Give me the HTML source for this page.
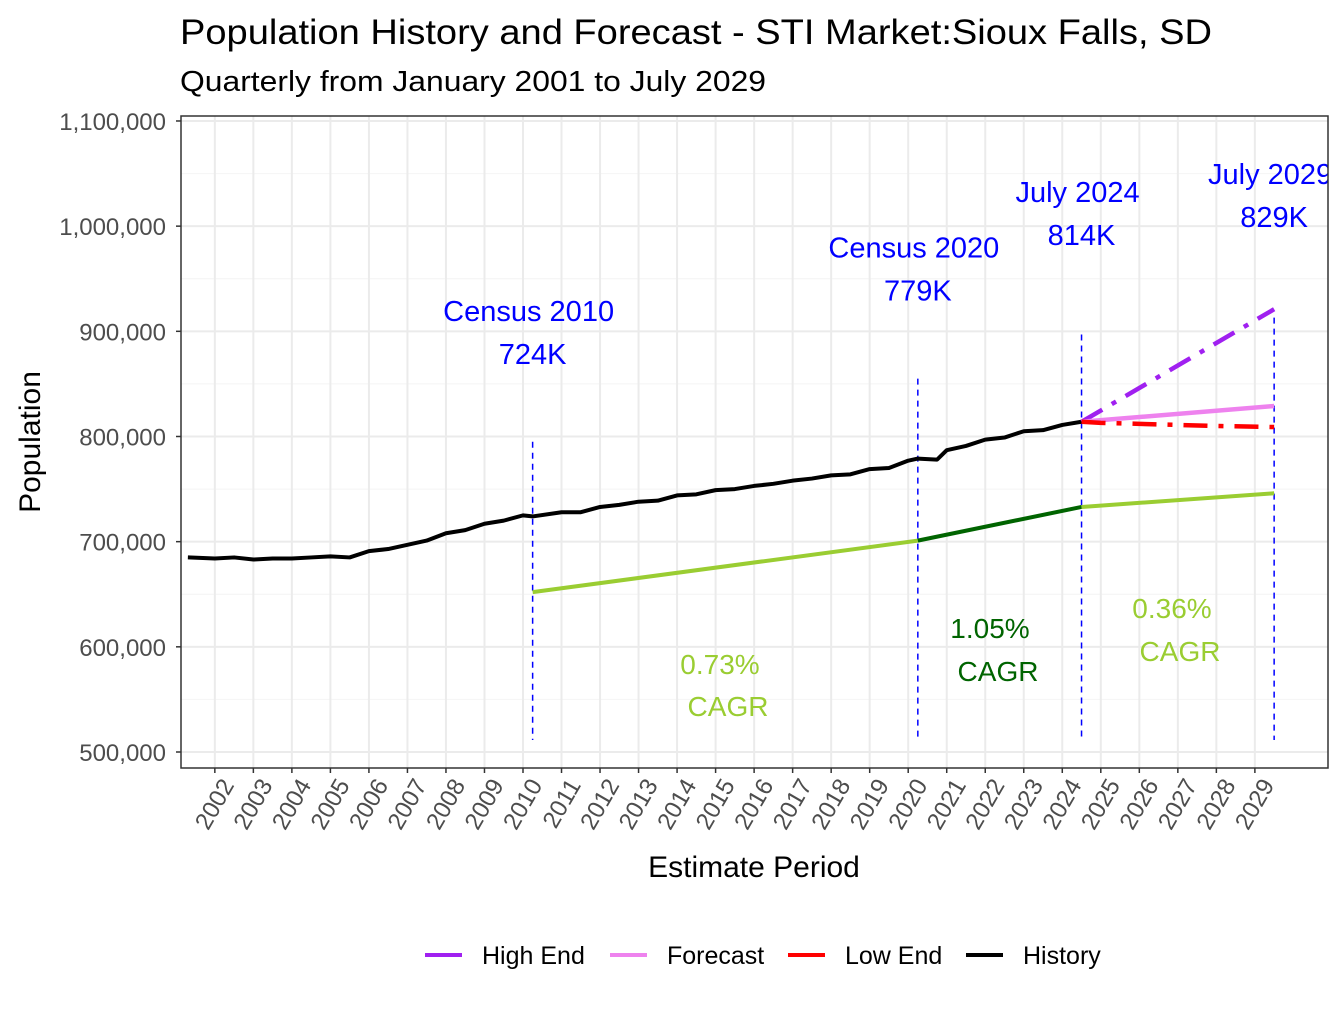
<!DOCTYPE html>
<html><head><meta charset="utf-8"><style>
body{margin:0;background:#fff}
svg text{font-family:"Liberation Sans",Arial,sans-serif}
</style></head><body>
<svg id="chart" width="1344" height="1008" xmlns="http://www.w3.org/2000/svg">
<text x="180" y="44" font-size="35" textLength="1032" lengthAdjust="spacingAndGlyphs">Population History and Forecast - STI Market:Sioux Falls, SD</text>
<text x="180" y="91" font-size="29" textLength="586" lengthAdjust="spacingAndGlyphs">Quarterly from January 2001 to July 2029</text>
<defs><clipPath id="clip"><rect x="181" y="116" width="1147" height="652"/></clipPath></defs>
<g id="grid"></g>
<g id="marks" clip-path="url(#clip)"></g>
<rect x="181" y="116" width="1147" height="652" fill="none" stroke="#333" stroke-width="1.5"/>
<g id="axes"></g>
<text transform="translate(40,442) rotate(-90)" text-anchor="middle" font-size="30">Population</text>
<text x="754" y="877" text-anchor="middle" font-size="30">Estimate Period</text>
<g id="legend"></g>
</svg>
<script>
const years=[2002,2003,2004,2005,2006,2007,2008,2009,2010,2011,2012,2013,2014,2015,2016,2017,2018,2019,2020,2021,2022,2023,2024,2025,2026,2027,2028,2029];
const yTicks=[500000,600000,700000,800000,900000,1000000,1100000];
const histT=[2001.3,2002,2002.5,2003,2003.5,2004,2004.5,2005,2005.5,2006,2006.5,2007,2007.5,2008,2008.5,2009,2009.5,2010,2010.25,2011,2011.5,2012,2012.5,2013,2013.5,2014,2014.5,2015,2015.5,2016,2016.5,2017,2017.5,2018,2018.5,2019,2019.5,2020,2020.25,2020.75,2021,2021.5,2022,2022.5,2023,2023.5,2024,2024.5];
const histV=[685000,684000,685000,683000,684000,684000,685000,686000,685000,691000,693000,697000,701000,708000,711000,717000,720000,725000,724000,728000,728000,733000,735000,738000,739000,744000,745000,749000,750000,753000,755000,758000,760000,763000,764000,769000,770000,777000,779000,778000,787000,791000,797000,799000,805000,806000,811000,814000];
const cagr1T=[2010.25,2020.25], cagr1V=[652000,701000];
const cagr2T=[2020.25,2024.5], cagr2V=[701000,733000];
const cagr3T=[2024.5,2029.5], cagr3V=[733000,746000];
const fcT=[2024.5,2029.5], fcV=[814000,829000];
const hiT=[2024.5,2029.5], hiV=[814000,921000];
const loT=[2024.5,2025,2026,2027,2028,2029.5], loV=[814000,813000,812000,811000,810000,809000];
const vlineT=[2010.25,2020.25,2024.5,2029.5], vlineTop=[795000,855000,897000,913000];
const notes=[["Census 2010",2010.25,"724K",910000],["Census 2020",2020.25,"779K",970000],["July 2024",2024.5,"814K",1023000],["July 2029",2029.5,"829K",1040000]];
const X=t=>523+(t-2010)*38.52, Y=v=>752-(v-500000)*0.0010517;
const NS="http://www.w3.org/2000/svg";
function mk(p,tag,a){const e=document.createElementNS(NS,tag);for(const k in a)e.setAttribute(k,a[k]);document.getElementById(p).appendChild(e);return e;}
for(let i=0;i<yTicks.length;i++){const y=Y(yTicks[i]);const g=mk('grid','line',{x1:181,x2:1328,y1:y,y2:y,stroke:'#ebebeb','stroke-width':2});

if(i<yTicks.length-1){const m=mk('grid','line',{x1:181,x2:1328,y1:Y(yTicks[i]+50000),y2:Y(yTicks[i]+50000),stroke:'#f4f4f4','stroke-width':1});}
const tl=mk('axes','text',{x:166,y:y+9,'text-anchor':'end','font-size':24,fill:'#4d4d4d'});tl.textContent=yTicks[i].toLocaleString('en-US');

const tk=mk('axes','line',{x1:176,x2:181,y1:y,y2:y,stroke:'#333','stroke-width':1.5});}
for(const yr of years){const x=X(yr);const g=mk('grid','line',{x1:x,x2:x,y1:116,y2:768,stroke:'#ebebeb','stroke-width':2});

const tk=mk('axes','line',{x1:x,x2:x,y1:768,y2:773,stroke:'#333','stroke-width':1.5});
const tl=mk('axes','text',{transform:`translate(${x+20},${785}) rotate(-60)`,'text-anchor':'end','font-size':24,fill:'#4d4d4d'});tl.textContent=yr;
}
function line(T,V,col,w,dash,name){const pts=T.map((t,i)=>X(t)+','+Y(V[i])).join(' ');const a={points:pts,fill:'none',stroke:col,'stroke-width':w,'stroke-linejoin':'round'};if(dash)a['stroke-dasharray']=dash;const e=mk('marks','polyline',a);}
for(let i=0;i<vlineT.length;i++){const e=mk('marks','line',{x1:X(vlineT[i]),x2:X(vlineT[i]),y1:Y(vlineTop[i]),y2:740,stroke:'#0000ff','stroke-width':1.5,'stroke-dasharray':'6,5'});}
line(cagr1T,cagr1V,'#9acd32',4,null,'cagr-2010-2020');
line(cagr2T,cagr2V,'#006400',4,null,'cagr-2020-2024');
line(cagr3T,cagr3V,'#9acd32',4,null,'cagr-2024-2029');
line(histT,histV,'#000',4,null,'history-line');
line(hiT,hiV,'#a020f0',4.5,'24,11,5,11','high-end-line');
line(fcT,fcV,'#ee82ee',4.5,null,'forecast-line');
line(loT,loV,'#ff0000',4.5,'24,11,5,11','low-end-line');
for(const n of notes){const x=X(n[1]),y=Y(n[3]);
const a=mk('marks','text',{x:x-4,y:y,'text-anchor':'middle','font-size':29,fill:'#0000ff'});a.textContent=n[0];
const b=mk('marks','text',{x:x,y:y+43,'text-anchor':'middle','font-size':29,fill:'#0000ff'});b.textContent=n[2];}
const cg=[["0.73%",720,674,'#9acd32'],["CAGR",728,716,'#9acd32'],["1.05%",990,638,'#006400'],["CAGR",998,681,'#006400'],["0.36%",1172,618,'#9acd32'],["CAGR",1180,661,'#9acd32']];
for(const c of cg){const e=mk('marks','text',{x:c[1],y:c[2],'text-anchor':'middle','font-size':28,fill:c[3]});e.textContent=c[0];}
const leg=[["High End",'#a020f0',425],["Forecast",'#ee82ee',610],["Low End",'#ff0000',788],["History",'#000',966]];
for(const l of leg){const k=mk('legend','line',{x1:l[2],x2:l[2]+37,y1:955,y2:955,stroke:l[1],'stroke-width':4});
const t=mk('legend','text',{x:l[2]+57,y:964,'font-size':25});t.textContent=l[0];}
</script>
</body></html>
